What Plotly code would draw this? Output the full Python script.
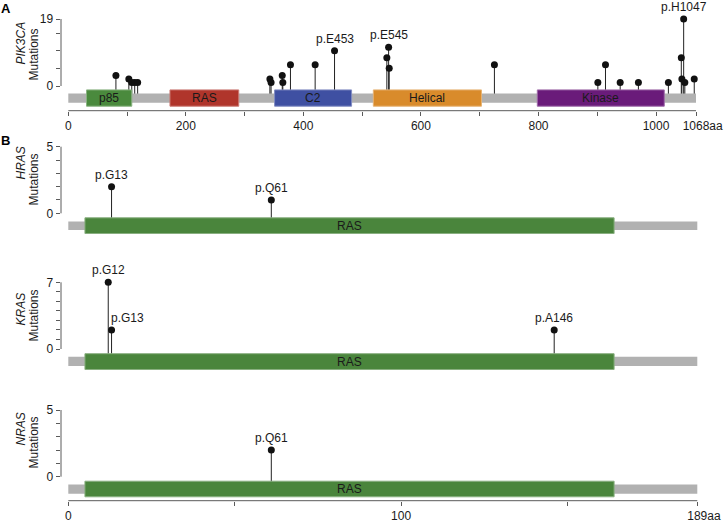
import plotly.graph_objects as go

# ---------------- data ----------------
pik3ca_length = 1068
pik3ca_domain_names = ["p85", "RAS", "C2", "Helical", "Kinase"]
pik3ca_domain_start = [31, 173, 351, 519, 798]
pik3ca_domain_end = [108, 290, 482, 703, 1014]
pik3ca_domain_colors = ["#4a8a3d", "#b0352b", "#3f50a2", "#d98b2b", "#6a1b7a"]
pik3ca_mut_pos = [81, 103, 108, 113, 118, 343, 345, 364, 365, 378, 420, 453,
                  542, 545, 546, 725, 901, 914, 939, 970, 1021, 1043, 1044,
                  1047, 1049, 1065]
pik3ca_mut_count = [3, 2, 1, 1, 1, 2, 1, 3, 1, 6, 6, 10,
                    8, 11, 5, 6, 1, 6, 1, 1, 1, 8, 2,
                    19, 1, 2]
pik3ca_label_pos = [453, 545, 1047]
pik3ca_label_text = ["p.E453", "p.E545", "p.H1047"]
pik3ca_xticks = [0, 100, 200, 300, 400, 500, 600, 700, 800, 900, 1000, 1068]
pik3ca_xticktext = ["0", "", "200", "", "400", "", "600", "", "800", "", "1000",
                    "\u00a0\u00a0\u00a0\u00a01068aa"]
pik3ca_yticks = [0, 5, 10, 15, 19]
pik3ca_yticktext = ["0", "", "", "", "19"]

ras_length = 189
ras_domain_names = ["RAS"]
ras_domain_start = [5]
ras_domain_end = [164]
ras_domain_colors = ["#4a853c"]
ras_xticks = [0, 50, 100, 150, 189]
ras_xticktext = ["0", "", "100", "", "\u00a0\u00a0\u00a0\u00a0189aa"]

hras_mut_pos = [13, 61]
hras_mut_count = [2, 1]
hras_label_text = ["p.G13", "p.Q61"]
hras_yticks = [0, 1, 2, 3, 4, 5]
hras_yticktext = ["0", "", "", "", "", "5"]

kras_mut_pos = [12, 13, 146]
kras_mut_count = [7, 2, 2]
kras_label_text = ["p.G12", "p.G13", "p.A146"]
kras_yticks = [0, 1, 2, 3, 4, 5, 6, 7]
kras_yticktext = ["0", "", "", "", "", "", "", "7"]

nras_mut_pos = [61]
nras_mut_count = [2]
nras_label_text = ["p.Q61"]
nras_yticks = [0, 1, 2, 3, 4, 5]
nras_yticktext = ["0", "", "", "", "", "5"]

# ---------------- layout geometry (pixels) ----------------
W, H = 726, 522
PL, PR = 60.5, 705.0     # plot area left/right
YAX_PX = 61.0            # y-axis line x position
FONT = "Liberation Sans, Arial, sans-serif"
TXT = "#1a1a1a"
AXC = "#5a5a5a"
GREY = "#b1b1b1"
DOT = "#111111"

panels = [
    dict(gene="PIK3CA", x0px=68.3, x1px=696.0, L=pik3ca_length, top=19.0, zero=86.0,
         ymax=19, bottom=110.5, box=(3.4, 20.7), grey=(7.6, 16.8),
         pos=pik3ca_mut_pos, cnt=pik3ca_mut_count,
         dn=pik3ca_domain_names, ds=pik3ca_domain_start, de=pik3ca_domain_end,
         dc=pik3ca_domain_colors, yt=pik3ca_yticks, ytt=pik3ca_yticktext,
         xt=pik3ca_xticks, xtt=pik3ca_xticktext, showx=True,
         gene_xy=(20.5, 43), mut_xy=(33.5, 55)),
    dict(gene="HRAS", x0px=68.3, x1px=697.3, L=ras_length, top=146.7, zero=213.3,
         ymax=5, bottom=236.0, box=(4.0, 20.7), grey=(8.2, 16.8),
         pos=hras_mut_pos, cnt=hras_mut_count,
         dn=ras_domain_names, ds=ras_domain_start, de=ras_domain_end,
         dc=ras_domain_colors, yt=hras_yticks, ytt=hras_yticktext,
         xt=ras_xticks, xtt=ras_xticktext, showx=False,
         gene_xy=(20.5, 163), mut_xy=(33.5, 180)),
    dict(gene="KRAS", x0px=68.3, x1px=697.3, L=ras_length, top=282.3, zero=349.0,
         ymax=7, bottom=372.0, box=(4.2, 21.0), grey=(7.8, 17.0),
         pos=kras_mut_pos, cnt=kras_mut_count,
         dn=ras_domain_names, ds=ras_domain_start, de=ras_domain_end,
         dc=ras_domain_colors, yt=kras_yticks, ytt=kras_yticktext,
         xt=ras_xticks, xtt=ras_xticktext, showx=False,
         gene_xy=(20.5, 309), mut_xy=(33.5, 316)),
    dict(gene="NRAS", x0px=68.3, x1px=697.3, L=ras_length, top=410.0, zero=476.7,
         ymax=5, bottom=500.5, box=(4.0, 20.6), grey=(7.8, 17.0),
         pos=nras_mut_pos, cnt=nras_mut_count,
         dn=ras_domain_names, ds=ras_domain_start, de=ras_domain_end,
         dc=ras_domain_colors, yt=nras_yticks, ytt=nras_yticktext,
         xt=ras_xticks, xtt=ras_xticktext, showx=True,
         gene_xy=(20.5, 429), mut_xy=(33.5, 443)),
]

labels = [
    (pik3ca_label_pos, [c for p, c in zip(pik3ca_mut_pos, pik3ca_mut_count) if p in pik3ca_label_pos],
     pik3ca_label_text, ["center"] * 3),
    (hras_mut_pos, hras_mut_count, hras_label_text, ["center", "center"]),
    (kras_mut_pos, kras_mut_count, kras_label_text, ["center", "left", "center"]),
    (nras_mut_pos, nras_mut_count, nras_label_text, ["center"]),
]

fig = go.Figure()
shapes = []
annotations = []
layout = {}


def px2paper_x(px):
    return px / W


def px2paper_y(py):
    return 1 - py / H


def lighten(hexcol, f=0.35):
    r, g, b = (int(hexcol[k:k + 2], 16) for k in (1, 3, 5))
    r, g, b = (int(v + (255 - v) * f) for v in (r, g, b))
    return "#%02x%02x%02x" % (r, g, b)


for i, p in enumerate(panels):
    n = "" if i == 0 else str(i + 1)
    xa, ya = "x" + n, "y" + n
    s = (p["x1px"] - p["x0px"]) / p["L"]
    xrange_ = [(PL - p["x0px"]) / s, (PR - p["x0px"]) / s]
    unit = (p["zero"] - p["top"]) / p["ymax"]
    yrange_ = [-(p["bottom"] - p["zero"]) / unit, p["ymax"]]
    box_y = [-(p["box"][1] - 0.5) / unit, -(p["box"][0] + 0.5) / unit]
    grey_y = [-p["grey"][1] / unit, -p["grey"][0] / unit]
    stem_base = (grey_y[0] + grey_y[1]) / 2

    layout["xaxis" + n] = dict(
        domain=[PL / W, PR / W], range=xrange_, anchor=ya, automargin=False,
        showgrid=False, zeroline=False, showline=False, tickangle=0,
        ticks="outside" if p["showx"] else "", ticklen=4, tickwidth=1,
        tickcolor=AXC, tickvals=p["xt"], ticktext=p["xtt"],
        showticklabels=p["showx"], tickfont=dict(family=FONT, size=12, color=TXT),
        fixedrange=True)
    layout["yaxis" + n] = dict(
        domain=[px2paper_y(p["bottom"]), px2paper_y(p["top"])], range=yrange_,
        anchor=xa, showgrid=False, zeroline=False, showline=False, automargin=False,
        ticks="outside", ticklen=4, tickwidth=1, tickcolor=AXC, tickangle=0,
        tickvals=p["yt"], ticktext=p["ytt"],
        tickfont=dict(family=FONT, size=12, color=TXT), fixedrange=True)

    # stems
    sx, sy = [], []
    for pos, c in zip(p["pos"], p["cnt"]):
        sx += [pos, pos, None]
        sy += [stem_base, c, None]
    fig.add_trace(go.Scatter(x=sx, y=sy, mode="lines", xaxis=xa, yaxis=ya,
                             line=dict(color="#222222", width=1), hoverinfo="skip",
                             showlegend=False))
    fig.add_trace(go.Scatter(x=p["pos"], y=p["cnt"], mode="markers", xaxis=xa, yaxis=ya,
                             marker=dict(color=DOT, size=7, line=dict(width=0)),
                             cliponaxis=False, showlegend=False))

    # protein backbone
    shapes.append(dict(type="rect", xref=xa, yref=ya, x0=0, x1=p["L"],
                       y0=grey_y[0], y1=grey_y[1], fillcolor=GREY,
                       line=dict(width=0), layer="above"))
    for name, d0, d1, col in zip(p["dn"], p["ds"], p["de"], p["dc"]):
        shapes.append(dict(type="rect", xref=xa, yref=ya, x0=d0, x1=d1,
                           y0=box_y[0], y1=box_y[1], fillcolor=col,
                           line=dict(width=1, color=lighten(col)), layer="above"))
        annotations.append(dict(x=(d0 + d1) / 2, y=(box_y[0] + box_y[1]) / 2,
                                xref=xa, yref=ya, text=name, showarrow=False,
                                xanchor="center", yanchor="middle",
                                font=dict(family=FONT, size=12, color=TXT)))

    # axis lines (drawn only over the value span, as in the reference)
    shapes.append(dict(type="line", xref="paper", yref="paper",
                       x0=px2paper_x(YAX_PX), x1=px2paper_x(YAX_PX),
                       y0=px2paper_y(p["zero"]), y1=px2paper_y(p["top"]),
                       line=dict(color=AXC, width=1)))
    if p["showx"]:
        shapes.append(dict(type="line", xref="paper", yref="paper",
                           x0=px2paper_x(p["x0px"]), x1=px2paper_x(p["x1px"]),
                           y0=px2paper_y(p["bottom"] + 0.2), y1=px2paper_y(p["bottom"] + 0.2),
                           line=dict(color=AXC, width=1)))

    # mutation labels
    lp, lc, lt, la = labels[i]
    for pos, c, t, al in zip(lp, lc, lt, la):
        annotations.append(dict(x=pos, y=c, xref=xa, yref=ya, text=t, showarrow=False,
                                xanchor=al, yanchor="middle", yshift=12,
                                xshift=-3 if al == "left" else 0,
                                font=dict(family=FONT, size=12, color=TXT)))

    # y titles
    gx, gy = p["gene_xy"]
    mx, my = p["mut_xy"]
    annotations.append(dict(x=px2paper_x(gx), y=px2paper_y(gy), xref="paper", yref="paper",
                            text="<i>" + p["gene"] + "</i>", textangle=-90, showarrow=False,
                            xanchor="center", yanchor="middle",
                            font=dict(family=FONT, size=12, color=TXT)))
    annotations.append(dict(x=px2paper_x(mx), y=px2paper_y(my), xref="paper", yref="paper",
                            text="Mutations", textangle=-90, showarrow=False,
                            xanchor="center", yanchor="middle",
                            font=dict(family=FONT, size=12, color=TXT)))

# panel letters
annotations.append(dict(x=px2paper_x(6), y=px2paper_y(8.5), xref="paper", yref="paper",
                        text="<b>A</b>", showarrow=False, xanchor="center", yanchor="middle",
                        font=dict(family=FONT, size=13, color="#000000")))
annotations.append(dict(x=px2paper_x(5.5), y=px2paper_y(140.5), xref="paper", yref="paper",
                        text="<b>B</b>", showarrow=False, xanchor="center", yanchor="middle",
                        font=dict(family=FONT, size=13, color="#000000")))

fig.update_layout(
    width=W, height=H, margin=dict(l=0, r=0, t=0, b=0, autoexpand=False),
    paper_bgcolor="white", plot_bgcolor="white",
    shapes=shapes, annotations=annotations, showlegend=False,
    font=dict(family=FONT, size=12, color=TXT),
    **layout)

fig.write_html("out.html", config={"displayModeBar": False, "staticPlot": True},
               post_script="document.body.style.margin='0px';document.body.style.overflow='hidden';")
